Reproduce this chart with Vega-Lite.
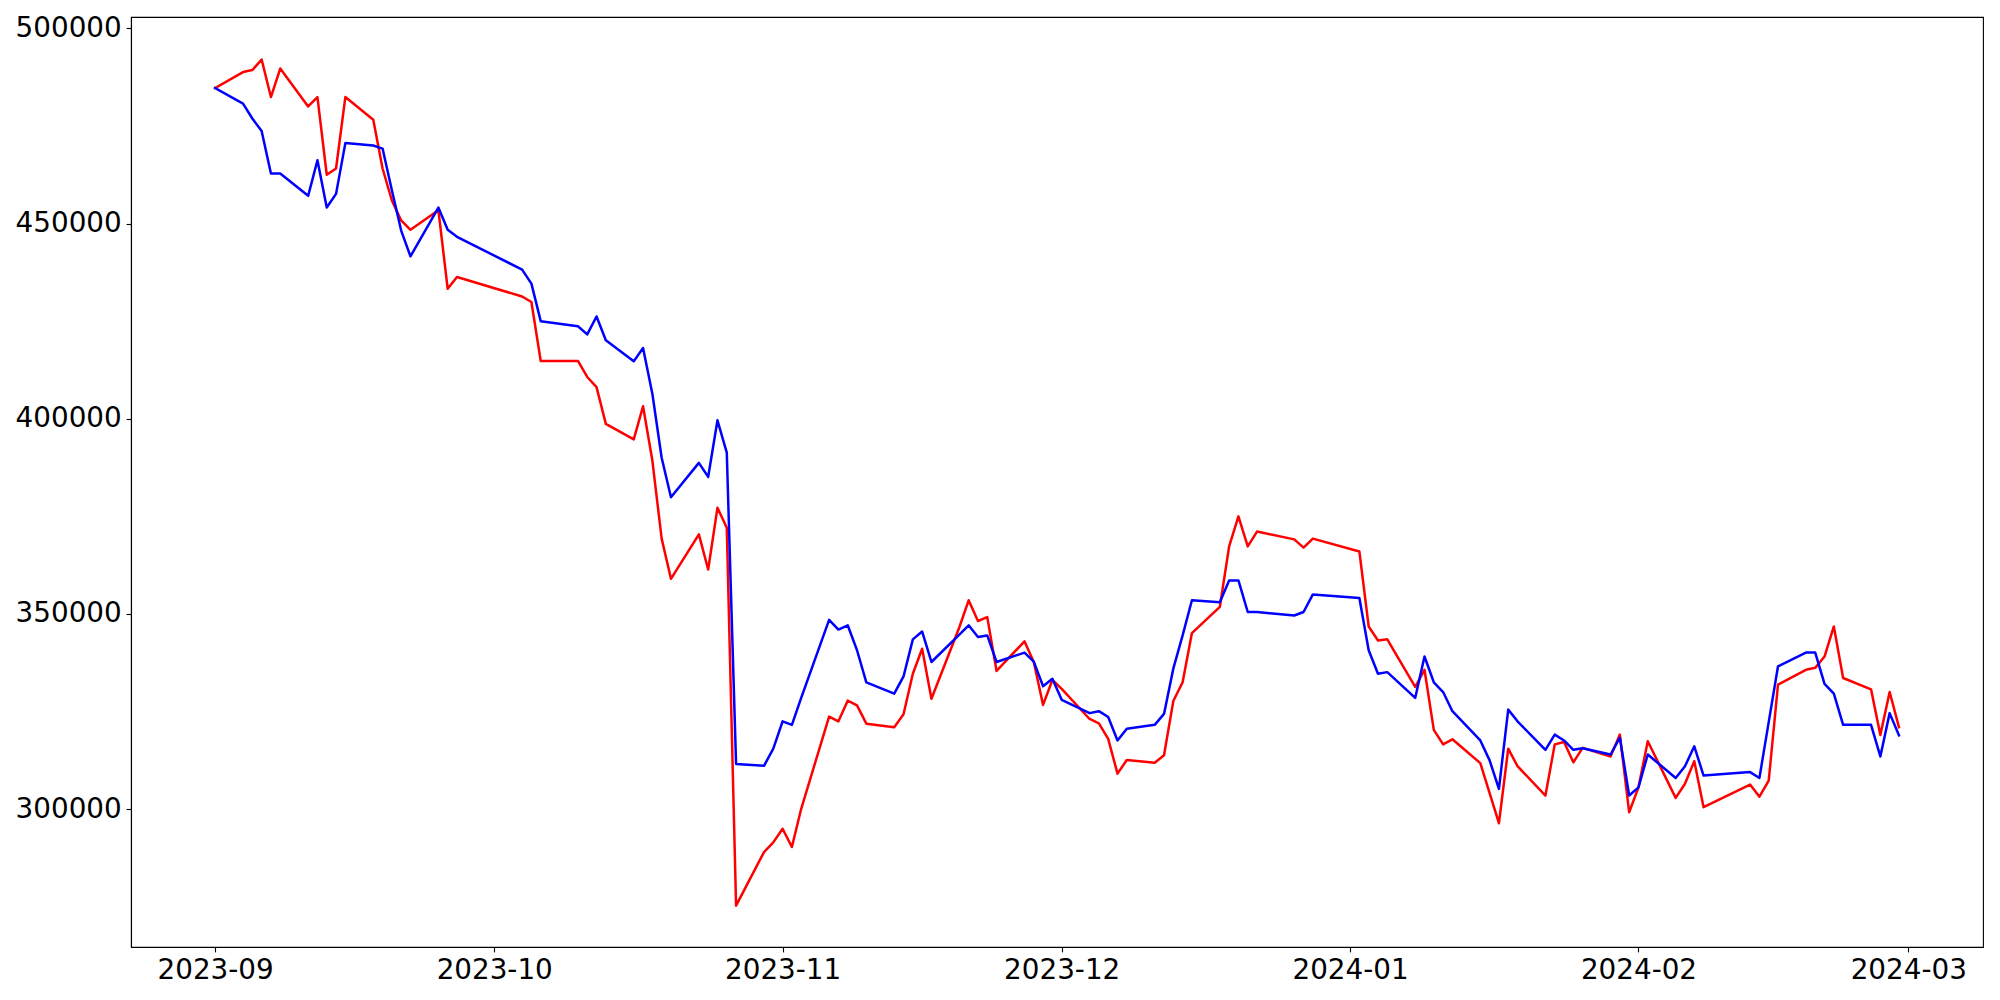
{
  "$schema": "https://vega.github.io/schema/vega-lite/v6.json",
  "width": 1852,
  "height": 930,
  "autosize": {"type": "none"},
  "padding": {"left": 131, "top": 17, "right": 17, "bottom": 54},
  "background": "white",
  "config": {
    "view": {"stroke": "black", "strokeWidth": 1.1},
    "font": "DejaVu Sans",
    "axis": {
      "grid": false,
      "domainColor": "black",
      "domainWidth": 1.1,
      "tickColor": "black",
      "tickWidth": 1.1,
      "tickSize": 4.9,
      "labelPadding": 4.9,
      "labelFont": "DejaVu Sans",
      "labelFontSize": 27.8,
      "labelColor": "black",
      "labelFlush": false,
      "labelOverlap": false,
      "title": null
    }
  },
  "data": {
    "values": [
      {"date": "2023-09-01T00:00:00", "red": 484700, "blue": 484700},
      {"date": "2023-09-04T00:00:00", "red": 488800, "blue": 480700},
      {"date": "2023-09-05T00:00:00", "red": 489300, "blue": 476900},
      {"date": "2023-09-06T00:00:00", "red": 492000, "blue": 473700},
      {"date": "2023-09-07T00:00:00", "red": 482400, "blue": 462800},
      {"date": "2023-09-08T00:00:00", "red": 489700, "blue": 462800},
      {"date": "2023-09-11T00:00:00", "red": 480000, "blue": 457100},
      {"date": "2023-09-12T00:00:00", "red": 482400, "blue": 466200},
      {"date": "2023-09-13T00:00:00", "red": 462500, "blue": 454100},
      {"date": "2023-09-14T00:00:00", "red": 464100, "blue": 457600},
      {"date": "2023-09-15T00:00:00", "red": 482400, "blue": 470600},
      {"date": "2023-09-18T00:00:00", "red": 476600, "blue": 470000},
      {"date": "2023-09-19T00:00:00", "red": 464100, "blue": 469200},
      {"date": "2023-09-20T00:00:00", "red": 455900, "blue": 458500},
      {"date": "2023-09-21T00:00:00", "red": 450800, "blue": 448200},
      {"date": "2023-09-22T00:00:00", "red": 448400, "blue": 441600},
      {"date": "2023-09-25T00:00:00", "red": 453400, "blue": 454100},
      {"date": "2023-09-26T00:00:00", "red": 433300, "blue": 448400},
      {"date": "2023-09-27T00:00:00", "red": 436300, "blue": 446600},
      {"date": "2023-10-04T00:00:00", "red": 431300, "blue": 438200},
      {"date": "2023-10-05T00:00:00", "red": 429900, "blue": 434600},
      {"date": "2023-10-06T00:00:00", "red": 414800, "blue": 425000},
      {"date": "2023-10-10T00:00:00", "red": 414800, "blue": 423700},
      {"date": "2023-10-11T00:00:00", "red": 410700, "blue": 421600},
      {"date": "2023-10-12T00:00:00", "red": 408100, "blue": 426200},
      {"date": "2023-10-13T00:00:00", "red": 398700, "blue": 420100},
      {"date": "2023-10-16T00:00:00", "red": 394700, "blue": 414700},
      {"date": "2023-10-17T00:00:00", "red": 403200, "blue": 418100},
      {"date": "2023-10-18T00:00:00", "red": 389300, "blue": 406400},
      {"date": "2023-10-19T00:00:00", "red": 369300, "blue": 390000},
      {"date": "2023-10-20T00:00:00", "red": 359000, "blue": 379900},
      {"date": "2023-10-23T00:00:00", "red": 370400, "blue": 388700},
      {"date": "2023-10-24T00:00:00", "red": 361400, "blue": 385100},
      {"date": "2023-10-25T00:00:00", "red": 377200, "blue": 399600},
      {"date": "2023-10-26T00:00:00", "red": 372100, "blue": 391300},
      {"date": "2023-10-27T00:00:00", "red": 275300, "blue": 311600},
      {"date": "2023-10-30T00:00:00", "red": 289000, "blue": 311100},
      {"date": "2023-10-31T00:00:00", "red": 291500, "blue": 315500},
      {"date": "2023-11-01T00:00:00", "red": 295000, "blue": 322500},
      {"date": "2023-11-02T00:00:00", "red": 290300, "blue": 321600},
      {"date": "2023-11-03T00:00:00", "red": 300100, "blue": 328500},
      {"date": "2023-11-06T00:00:00", "red": 323700, "blue": 348500},
      {"date": "2023-11-07T00:00:00", "red": 322500, "blue": 346000},
      {"date": "2023-11-08T00:00:00", "red": 327800, "blue": 347100},
      {"date": "2023-11-09T00:00:00", "red": 326600, "blue": 340700},
      {"date": "2023-11-10T00:00:00", "red": 321900, "blue": 332500},
      {"date": "2023-11-13T00:00:00", "red": 321000, "blue": 329600},
      {"date": "2023-11-14T00:00:00", "red": 324300, "blue": 334000},
      {"date": "2023-11-15T00:00:00", "red": 334700, "blue": 343500},
      {"date": "2023-11-16T00:00:00", "red": 341100, "blue": 345500},
      {"date": "2023-11-17T00:00:00", "red": 328300, "blue": 337700},
      {"date": "2023-11-20T00:00:00", "red": 346600, "blue": 344700},
      {"date": "2023-11-21T00:00:00", "red": 353500, "blue": 347100},
      {"date": "2023-11-22T00:00:00", "red": 348200, "blue": 344100},
      {"date": "2023-11-23T00:00:00", "red": 349200, "blue": 344500},
      {"date": "2023-11-24T00:00:00", "red": 335400, "blue": 337700},
      {"date": "2023-11-27T00:00:00", "red": 343000, "blue": 340100},
      {"date": "2023-11-28T00:00:00", "red": 337700, "blue": 337800},
      {"date": "2023-11-29T00:00:00", "red": 326700, "blue": 331500},
      {"date": "2023-11-30T00:00:00", "red": 333100, "blue": 333400},
      {"date": "2023-12-01T00:00:00", "red": 330800, "blue": 328000},
      {"date": "2023-12-04T00:00:00", "red": 323100, "blue": 324600},
      {"date": "2023-12-05T00:00:00", "red": 322000, "blue": 325100},
      {"date": "2023-12-06T00:00:00", "red": 318000, "blue": 323600},
      {"date": "2023-12-07T00:00:00", "red": 309100, "blue": 317600},
      {"date": "2023-12-08T00:00:00", "red": 312600, "blue": 320600},
      {"date": "2023-12-11T00:00:00", "red": 311900, "blue": 321600},
      {"date": "2023-12-12T00:00:00", "red": 313800, "blue": 324400},
      {"date": "2023-12-13T00:00:00", "red": 327700, "blue": 336000},
      {"date": "2023-12-14T00:00:00", "red": 332500, "blue": 344500},
      {"date": "2023-12-15T00:00:00", "red": 345100, "blue": 353500},
      {"date": "2023-12-18T00:00:00", "red": 351800, "blue": 353000},
      {"date": "2023-12-19T00:00:00", "red": 367300, "blue": 358600},
      {"date": "2023-12-20T00:00:00", "red": 375000, "blue": 358600},
      {"date": "2023-12-21T00:00:00", "red": 367300, "blue": 350500},
      {"date": "2023-12-22T00:00:00", "red": 371100, "blue": 350500},
      {"date": "2023-12-26T00:00:00", "red": 369100, "blue": 349600},
      {"date": "2023-12-27T00:00:00", "red": 367000, "blue": 350500},
      {"date": "2023-12-28T00:00:00", "red": 369300, "blue": 355000},
      {"date": "2024-01-02T00:00:00", "red": 366000, "blue": 354100},
      {"date": "2024-01-03T00:00:00", "red": 346800, "blue": 340700},
      {"date": "2024-01-04T00:00:00", "red": 343200, "blue": 334700},
      {"date": "2024-01-05T00:00:00", "red": 343500, "blue": 335100},
      {"date": "2024-01-08T00:00:00", "red": 331300, "blue": 328500},
      {"date": "2024-01-09T00:00:00", "red": 335700, "blue": 339100},
      {"date": "2024-01-10T00:00:00", "red": 320300, "blue": 332500},
      {"date": "2024-01-11T00:00:00", "red": 316600, "blue": 330000},
      {"date": "2024-01-12T00:00:00", "red": 317900, "blue": 325100},
      {"date": "2024-01-15T00:00:00", "red": 311800, "blue": 317600},
      {"date": "2024-01-16T00:00:00", "red": 304100, "blue": 312500},
      {"date": "2024-01-17T00:00:00", "red": 296400, "blue": 305200},
      {"date": "2024-01-18T00:00:00", "red": 315500, "blue": 325500},
      {"date": "2024-01-19T00:00:00", "red": 311000, "blue": 322500},
      {"date": "2024-01-22T00:00:00", "red": 303500, "blue": 315200},
      {"date": "2024-01-23T00:00:00", "red": 316600, "blue": 319100},
      {"date": "2024-01-24T00:00:00", "red": 317200, "blue": 317600},
      {"date": "2024-01-25T00:00:00", "red": 312000, "blue": 315200},
      {"date": "2024-01-26T00:00:00", "red": 315700, "blue": 315600},
      {"date": "2024-01-29T00:00:00", "red": 313500, "blue": 314000},
      {"date": "2024-01-30T00:00:00", "red": 319100, "blue": 318300},
      {"date": "2024-01-31T00:00:00", "red": 299200, "blue": 303500},
      {"date": "2024-02-01T00:00:00", "red": 305600, "blue": 305600},
      {"date": "2024-02-02T00:00:00", "red": 317400, "blue": 314000},
      {"date": "2024-02-05T00:00:00", "red": 302900, "blue": 308000},
      {"date": "2024-02-06T00:00:00", "red": 306500, "blue": 311000},
      {"date": "2024-02-07T00:00:00", "red": 312300, "blue": 316100},
      {"date": "2024-02-08T00:00:00", "red": 300500, "blue": 308600},
      {"date": "2024-02-13T00:00:00", "red": 306300, "blue": 309500},
      {"date": "2024-02-14T00:00:00", "red": 303200, "blue": 308000},
      {"date": "2024-02-15T00:00:00", "red": 307300, "blue": 322300},
      {"date": "2024-02-16T00:00:00", "red": 331900, "blue": 336600},
      {"date": "2024-02-19T00:00:00", "red": 335700, "blue": 340100},
      {"date": "2024-02-20T00:00:00", "red": 336200, "blue": 340100},
      {"date": "2024-02-21T00:00:00", "red": 339100, "blue": 332100},
      {"date": "2024-02-22T00:00:00", "red": 346800, "blue": 329600},
      {"date": "2024-02-23T00:00:00", "red": 333600, "blue": 321600},
      {"date": "2024-02-26T00:00:00", "red": 330700, "blue": 321600},
      {"date": "2024-02-27T00:00:00", "red": 319000, "blue": 313500},
      {"date": "2024-02-28T00:00:00", "red": 330000, "blue": 324600},
      {"date": "2024-02-29T00:00:00", "red": 321000, "blue": 318900}
    ]
  },
  "encoding": {
    "x": {
      "field": "date",
      "type": "temporal",
      "scale": {
        "domain": [
          {"year": 2023, "month": 8, "date": 22, "hours": 23, "minutes": 0},
          {"year": 2024, "month": 3, "date": 9, "hours": 0, "minutes": 50}
        ]
      },
      "axis": {
        "format": "%Y-%m",
        "values": [
          {"year": 2023, "month": 9, "date": 1},
          {"year": 2023, "month": 10, "date": 1},
          {"year": 2023, "month": 11, "date": 1},
          {"year": 2023, "month": 12, "date": 1},
          {"year": 2024, "month": 1, "date": 1},
          {"year": 2024, "month": 2, "date": 1},
          {"year": 2024, "month": 3, "date": 1}
        ]
      }
    }
  },
  "layer": [
    {
      "mark": {"type": "line", "color": "#ff0000", "strokeWidth": 2.5, "strokeJoin": "round", "strokeCap": "square"},
      "encoding": {
        "y": {
          "field": "red",
          "type": "quantitative",
          "scale": {"domain": [264700, 502900], "zero": false, "nice": false},
          "axis": {"values": [300000, 350000, 400000, 450000, 500000], "format": "d"}
        }
      }
    },
    {
      "mark": {"type": "line", "color": "#0000ff", "strokeWidth": 2.5, "strokeJoin": "round", "strokeCap": "square"},
      "encoding": {
        "y": {"field": "blue", "type": "quantitative"}
      }
    }
  ]
}
